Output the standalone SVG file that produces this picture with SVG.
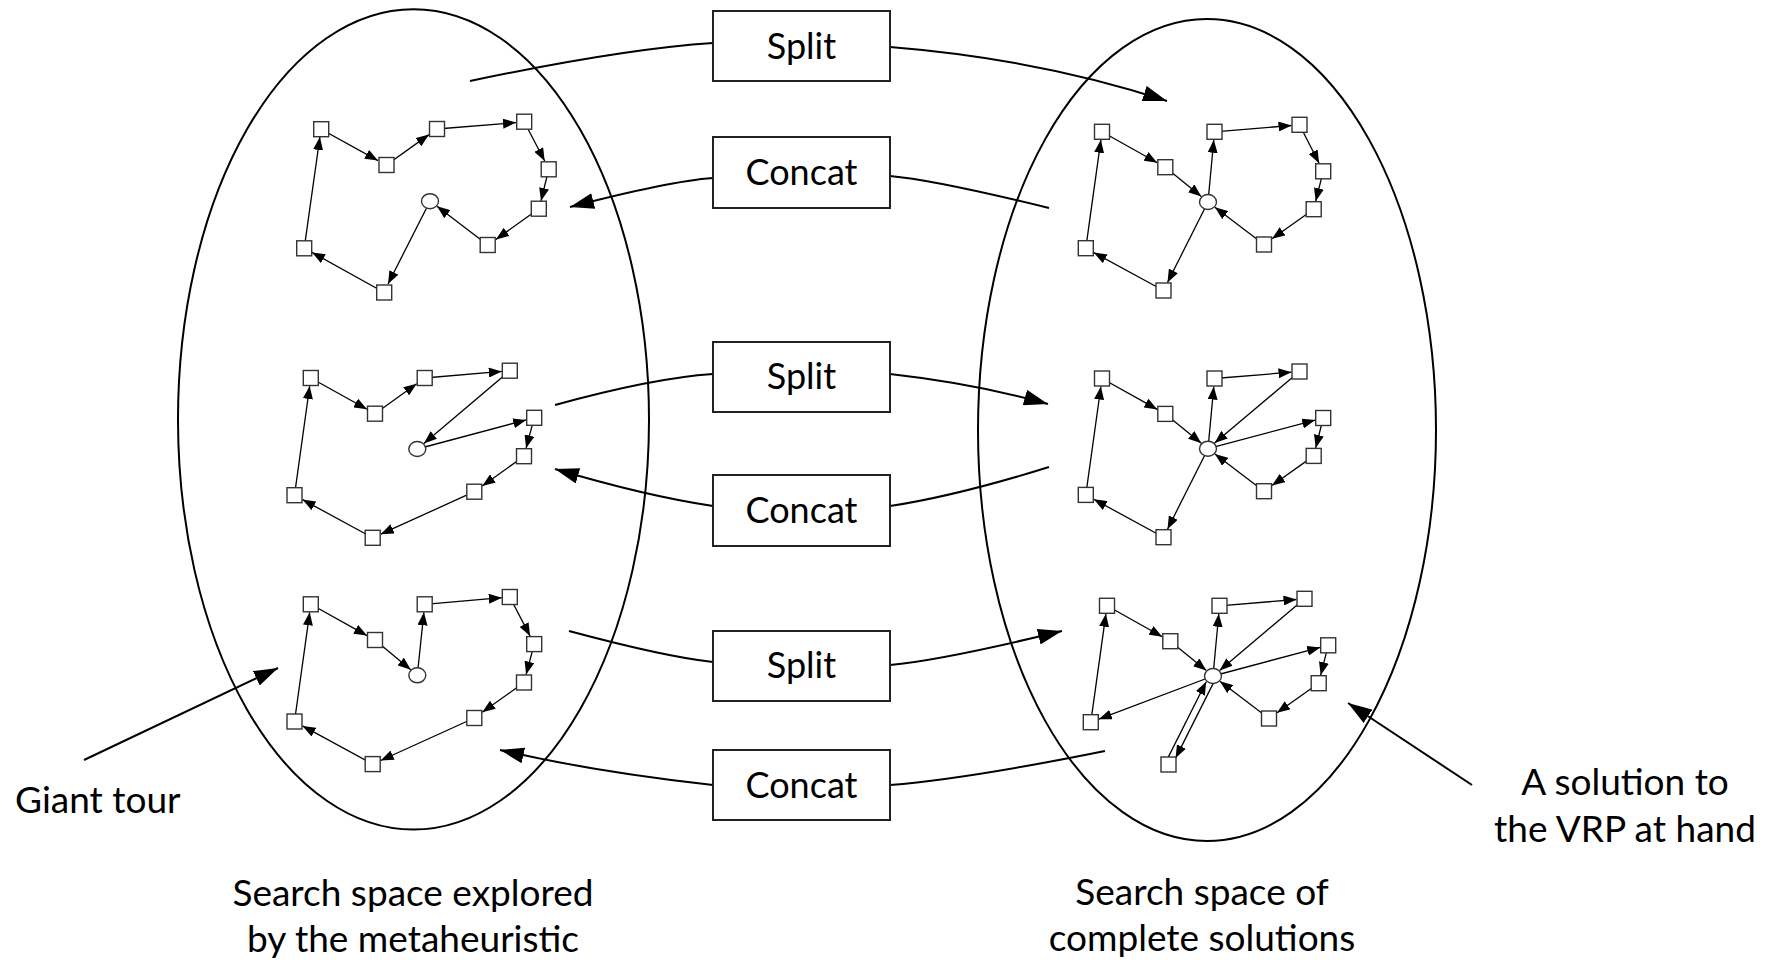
<svg xmlns="http://www.w3.org/2000/svg" width="1767" height="963" viewBox="0 0 1767 963">
  <style>
    .space { fill: none; stroke: #000; stroke-width: 2; }
    .flow { fill: none; stroke: #000; stroke-width: 2; }
    .flow-end { marker-end: url(#bigArrow); }
    .box { fill: #fff; stroke: #222; stroke-width: 2; }
    .lbl { font-family: Lato, "Liberation Sans", sans-serif; font-size: 36px; fill: #000; }
    .cap { font-size: 37px; }
    .mid { text-anchor: middle; }
    .e { stroke: #000; stroke-width: 1.3; marker-end: url(#smallArrow); }
    .n { fill: #fff; stroke: #333; stroke-width: 1.4; }
    .d { fill: #fff; stroke: #333; stroke-width: 1.4; }
  </style>
  <defs>
    <marker id="smallArrow" viewBox="0 0 13 10" refX="13" refY="5" markerWidth="13" markerHeight="10" markerUnits="userSpaceOnUse" orient="auto">
      <path d="M0,0 L13,5 L0,10 z" fill="#000"/>
    </marker>
    <marker id="bigArrow" viewBox="0 0 24 16" refX="24" refY="8" markerWidth="24" markerHeight="16" markerUnits="userSpaceOnUse" orient="auto">
      <path d="M0,0 L24,8 L0,16 z" fill="#000"/>
    </marker>
  </defs>
  <rect width="1767" height="963" fill="#fff"/>

  <!-- the two search spaces -->
  <g id="space-giant-tours">
    <ellipse class="space" cx="413.5" cy="419.4" rx="235.5" ry="410.2"/>
  </g>
  <g id="space-solutions">
    <ellipse class="space" cx="1207" cy="430" rx="229" ry="411"/>
  </g>

  <!-- Split / Concat connectors and annotation arrows -->
  <g id="connectors">
    <path class="flow" d="M470,81 Q622,49 713,43"/>
    <path class="flow flow-end" d="M890,47 Q1039,59 1167,101"/>
    <path class="flow" d="M1049,208 Q935,180 890,176"/>
    <path class="flow flow-end" d="M713,178 Q670,181 570,207"/>

    <path class="flow" d="M555,405 Q653,378 713,374"/>
    <path class="flow flow-end" d="M890,374 Q975,383.5 1048,404"/>
    <path class="flow" d="M1049,467 Q956,496 890,506"/>
    <path class="flow flow-end" d="M713,506 Q646,496 555,469"/>

    <path class="flow" d="M569,631 Q666,657 713,662"/>
    <path class="flow flow-end" d="M890,665 Q943,660 1062,631"/>
    <path class="flow" d="M1105,751 Q966,779 890,785"/>
    <path class="flow flow-end" d="M713,785 Q595,772 500,750"/>

    <path class="flow flow-end" d="M84,760 L278,668"/>
    <path class="flow flow-end" d="M1472,785 L1348,703"/>
  </g>

  <!-- operator boxes -->
  <g id="split-1"><rect class="box" x="713" y="11" width="177" height="70"/><text class="lbl mid" x="801.5" y="58.5">Split</text></g>
  <g id="concat-1"><rect class="box" x="713" y="137" width="177" height="71"/><text class="lbl mid" x="801.5" y="185">Concat</text></g>
  <g id="split-2"><rect class="box" x="713" y="342" width="177" height="70"/><text class="lbl mid" x="801.5" y="389">Split</text></g>
  <g id="concat-2"><rect class="box" x="713" y="475" width="177" height="71"/><text class="lbl mid" x="801.5" y="523">Concat</text></g>
  <g id="split-3"><rect class="box" x="713" y="631" width="177" height="70"/><text class="lbl mid" x="801.5" y="678">Split</text></g>
  <g id="concat-3"><rect class="box" x="713" y="750" width="177" height="70"/><text class="lbl mid" x="801.5" y="797.5">Concat</text></g>

  <!-- giant tour 1 -->
  <g id="tour-1">
    <line class="e" x1="321.2" y1="129.2" x2="378.0" y2="160.6"/>
    <line class="e" x1="386.5" y1="165" x2="429.0" y2="134.6"/>
    <line class="e" x1="437" y1="129" x2="516.0" y2="122.6"/>
    <line class="e" x1="524.2" y1="121.7" x2="544.7" y2="161.0"/>
    <line class="e" x1="548.7" y1="169.3" x2="541.0" y2="201.0"/>
    <line class="e" x1="538.8" y1="208.7" x2="496.0" y2="239.4"/>
    <line class="e" x1="487.7" y1="245" x2="437.0" y2="206.3"/>
    <line class="e" x1="430" y1="201.2" x2="388.0" y2="284.0"/>
    <line class="e" x1="384.2" y1="292.5" x2="312.0" y2="252.4"/>
    <line class="e" x1="304.2" y1="248.3" x2="319.9" y2="137.0"/>
    <rect class="n" x="313.7" y="121.7" width="15" height="15"/>
    <rect class="n" x="379" y="157.5" width="15" height="15"/>
    <rect class="n" x="429.5" y="121.5" width="15" height="15"/>
    <rect class="n" x="516.7" y="114.2" width="15" height="15"/>
    <rect class="n" x="541.2" y="161.8" width="15" height="15"/>
    <rect class="n" x="531.3" y="201.2" width="15" height="15"/>
    <rect class="n" x="480.2" y="237.5" width="15" height="15"/>
    <rect class="n" x="376.7" y="285" width="15" height="15"/>
    <rect class="n" x="296.7" y="240.8" width="15" height="15"/>
    <ellipse class="d" cx="430" cy="201.2" rx="8.5" ry="7.5"/>
  </g>

  <!-- giant tour 2 -->
  <g id="tour-2">
    <line class="e" x1="310.8" y1="378" x2="367.0" y2="409.3"/>
    <line class="e" x1="375" y1="413.7" x2="416.7" y2="383.7"/>
    <line class="e" x1="424.7" y1="378" x2="501.8" y2="371.4"/>
    <line class="e" x1="509.8" y1="370.7" x2="423.9" y2="443.4"/>
    <line class="e" x1="417.3" y1="449" x2="526.2" y2="419.9"/>
    <line class="e" x1="534.2" y1="417.8" x2="526.1" y2="448.2"/>
    <line class="e" x1="524" y1="456.2" x2="482.3" y2="486.0"/>
    <line class="e" x1="474.3" y1="491.7" x2="380.7" y2="534.2"/>
    <line class="e" x1="372.7" y1="537.8" x2="302.5" y2="499.6"/>
    <line class="e" x1="294.5" y1="495.2" x2="309.7" y2="386.0"/>
    <rect class="n" x="303.3" y="370.5" width="15" height="15"/>
    <rect class="n" x="367.5" y="406.2" width="15" height="15"/>
    <rect class="n" x="417.2" y="370.5" width="15" height="15"/>
    <rect class="n" x="502.3" y="363.2" width="15" height="15"/>
    <rect class="n" x="526.7" y="410.3" width="15" height="15"/>
    <rect class="n" x="516.5" y="448.7" width="15" height="15"/>
    <rect class="n" x="466.8" y="484.2" width="15" height="15"/>
    <rect class="n" x="365.2" y="530.3" width="15" height="15"/>
    <rect class="n" x="287" y="487.7" width="15" height="15"/>
    <ellipse class="d" cx="417.3" cy="449" rx="8.5" ry="7.5"/>
  </g>

  <!-- giant tour 3 -->
  <g id="tour-3" transform="translate(0,226.3)">
    <line class="e" x1="310.8" y1="378" x2="367.0" y2="409.3"/>
    <line class="e" x1="375" y1="413.7" x2="410.7" y2="443.5"/>
    <line class="e" x1="417.3" y1="449" x2="423.9" y2="386.0"/>
    <line class="e" x1="424.7" y1="378" x2="501.8" y2="371.4"/>
    <line class="e" x1="509.8" y1="370.7" x2="530.1" y2="409.8"/>
    <line class="e" x1="534.2" y1="417.8" x2="526.1" y2="448.2"/>
    <line class="e" x1="524" y1="456.2" x2="482.3" y2="486.0"/>
    <line class="e" x1="474.3" y1="491.7" x2="380.7" y2="534.2"/>
    <line class="e" x1="372.7" y1="537.8" x2="302.5" y2="499.6"/>
    <line class="e" x1="294.5" y1="495.2" x2="309.7" y2="386.0"/>
    <rect class="n" x="303.3" y="370.5" width="15" height="15"/>
    <rect class="n" x="367.5" y="406.2" width="15" height="15"/>
    <rect class="n" x="417.2" y="370.5" width="15" height="15"/>
    <rect class="n" x="502.3" y="363.2" width="15" height="15"/>
    <rect class="n" x="526.7" y="410.3" width="15" height="15"/>
    <rect class="n" x="516.5" y="448.7" width="15" height="15"/>
    <rect class="n" x="466.8" y="484.2" width="15" height="15"/>
    <rect class="n" x="365.2" y="530.3" width="15" height="15"/>
    <rect class="n" x="287" y="487.7" width="15" height="15"/>
    <ellipse class="d" cx="417.3" cy="449" rx="8.5" ry="7.5"/>
  </g>

  <!-- solution 1 -->
  <g id="solution-1">
    <line class="e" x1="1102" y1="131.8" x2="1157.3" y2="162.7"/>
    <line class="e" x1="1165.3" y1="167.2" x2="1201.3" y2="196.5"/>
    <line class="e" x1="1208" y1="202" x2="1213.8" y2="139.8"/>
    <line class="e" x1="1214.5" y1="131.8" x2="1291.5" y2="125.5"/>
    <line class="e" x1="1299.5" y1="124.8" x2="1319.1" y2="163.3"/>
    <line class="e" x1="1323.2" y1="171.3" x2="1315.7" y2="201.2"/>
    <line class="e" x1="1313.7" y1="209.2" x2="1272.0" y2="238.8"/>
    <line class="e" x1="1264" y1="244.5" x2="1214.9" y2="207.3"/>
    <line class="e" x1="1208" y1="202" x2="1167.5" y2="282.5"/>
    <line class="e" x1="1163.5" y1="290.5" x2="1093.8" y2="252.6"/>
    <line class="e" x1="1085.8" y1="248.2" x2="1100.9" y2="139.8"/>
    <rect class="n" x="1094.5" y="124.3" width="15" height="15"/>
    <rect class="n" x="1157.8" y="159.7" width="15" height="15"/>
    <rect class="n" x="1207" y="124.3" width="15" height="15"/>
    <rect class="n" x="1292" y="117.3" width="15" height="15"/>
    <rect class="n" x="1315.7" y="163.8" width="15" height="15"/>
    <rect class="n" x="1306.2" y="201.7" width="15" height="15"/>
    <rect class="n" x="1256.5" y="237" width="15" height="15"/>
    <rect class="n" x="1156" y="283" width="15" height="15"/>
    <rect class="n" x="1078.3" y="240.7" width="15" height="15"/>
    <ellipse class="d" cx="1208" cy="202" rx="8.5" ry="7.5"/>
  </g>

  <!-- solution 2 -->
  <g id="solution-2" transform="translate(0,246.7)">
    <line class="e" x1="1102" y1="131.8" x2="1157.3" y2="162.7"/>
    <line class="e" x1="1165.3" y1="167.2" x2="1201.3" y2="196.5"/>
    <line class="e" x1="1208" y1="202" x2="1213.8" y2="139.8"/>
    <line class="e" x1="1214.5" y1="131.8" x2="1291.5" y2="125.5"/>
    <line class="e" x1="1299.5" y1="124.8" x2="1214.6" y2="196.4"/>
    <line class="e" x1="1208" y1="202" x2="1315.2" y2="173.4"/>
    <line class="e" x1="1323.2" y1="171.3" x2="1315.7" y2="201.2"/>
    <line class="e" x1="1313.7" y1="209.2" x2="1272.0" y2="238.8"/>
    <line class="e" x1="1264" y1="244.5" x2="1214.9" y2="207.3"/>
    <line class="e" x1="1208" y1="202" x2="1167.5" y2="282.5"/>
    <line class="e" x1="1163.5" y1="290.5" x2="1093.8" y2="252.6"/>
    <line class="e" x1="1085.8" y1="248.2" x2="1100.9" y2="139.8"/>
    <rect class="n" x="1094.5" y="124.3" width="15" height="15"/>
    <rect class="n" x="1157.8" y="159.7" width="15" height="15"/>
    <rect class="n" x="1207" y="124.3" width="15" height="15"/>
    <rect class="n" x="1292" y="117.3" width="15" height="15"/>
    <rect class="n" x="1315.7" y="163.8" width="15" height="15"/>
    <rect class="n" x="1306.2" y="201.7" width="15" height="15"/>
    <rect class="n" x="1256.5" y="237" width="15" height="15"/>
    <rect class="n" x="1156" y="283" width="15" height="15"/>
    <rect class="n" x="1078.3" y="240.7" width="15" height="15"/>
    <ellipse class="d" cx="1208" cy="202" rx="8.5" ry="7.5"/>
  </g>

  <!-- solution 3 -->
  <g id="solution-3" transform="translate(5,474)">
    <line class="e" x1="1102" y1="131.8" x2="1157.3" y2="162.7"/>
    <line class="e" x1="1165.3" y1="167.2" x2="1201.3" y2="196.5"/>
    <line class="e" x1="1208" y1="202" x2="1213.8" y2="139.8"/>
    <line class="e" x1="1214.5" y1="131.8" x2="1291.5" y2="125.5"/>
    <line class="e" x1="1299.5" y1="124.8" x2="1214.6" y2="196.4"/>
    <line class="e" x1="1208" y1="202" x2="1315.2" y2="173.4"/>
    <line class="e" x1="1323.2" y1="171.3" x2="1315.7" y2="201.2"/>
    <line class="e" x1="1313.7" y1="209.2" x2="1272.0" y2="238.8"/>
    <line class="e" x1="1264" y1="244.5" x2="1214.9" y2="207.3"/>
    <line class="e" x1="1208" y1="202" x2="1093.8" y2="245.2"/>
    <line class="e" x1="1211.1" y1="203.6" x2="1170.6" y2="284.1"/>
    <line class="e" x1="1160.4" y1="288.9" x2="1201.2" y2="207.8"/>
    <line class="e" x1="1085.8" y1="248.2" x2="1100.9" y2="139.8"/>
    <rect class="n" x="1094.5" y="124.3" width="15" height="15"/>
    <rect class="n" x="1157.8" y="159.7" width="15" height="15"/>
    <rect class="n" x="1207" y="124.3" width="15" height="15"/>
    <rect class="n" x="1292" y="117.3" width="15" height="15"/>
    <rect class="n" x="1315.7" y="163.8" width="15" height="15"/>
    <rect class="n" x="1306.2" y="201.7" width="15" height="15"/>
    <rect class="n" x="1256.5" y="237" width="15" height="15"/>
    <rect class="n" x="1156" y="283" width="15" height="15"/>
    <rect class="n" x="1078.3" y="240.7" width="15" height="15"/>
    <ellipse class="d" cx="1208" cy="202" rx="8.5" ry="7.5"/>
  </g>

  <!-- captions -->
  <g id="label-giant-tour"><text class="lbl cap" x="15" y="813">Giant tour</text></g>
  <g id="label-solution">
    <text class="lbl cap mid" x="1625" y="795">A solution to</text>
    <text class="lbl cap mid" x="1625" y="842">the VRP at hand</text>
  </g>
  <g id="label-left-space">
    <text class="lbl cap mid" x="413" y="906">Search space explored</text>
    <text class="lbl cap mid" x="413" y="952">by the metaheuristic</text>
  </g>
  <g id="label-right-space">
    <text class="lbl cap mid" x="1202" y="905">Search space of</text>
    <text class="lbl cap mid" x="1202" y="951">complete solutions</text>
  </g>
</svg>
